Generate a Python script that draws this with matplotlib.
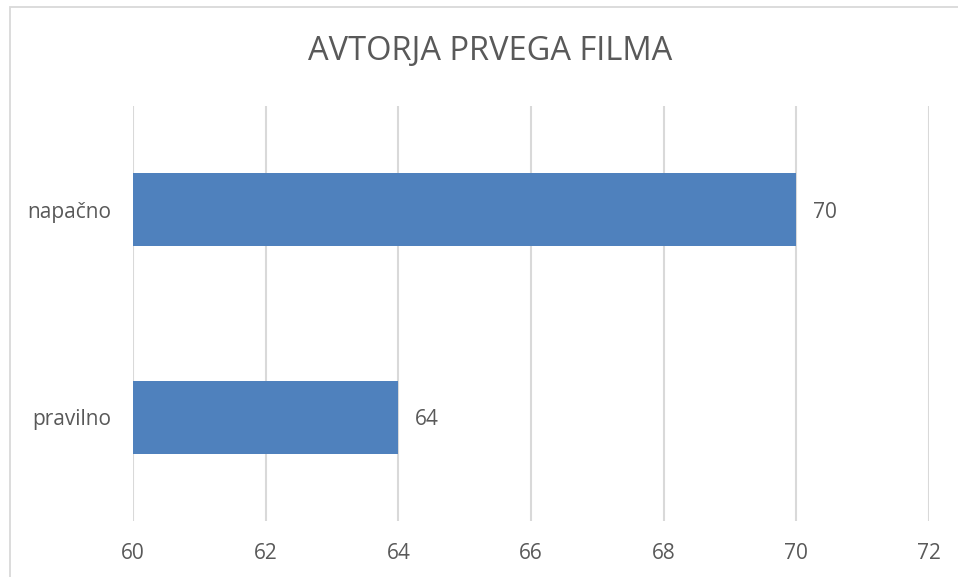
import matplotlib.pyplot as plt
import matplotlib
from matplotlib.patches import Rectangle

matplotlib.rcParams['font.family'] = ['Open Sans', 'DejaVu Sans']

# data
categories = ['pravilno', 'napačno']
values = [64, 70]
ticks = [60, 62, 64, 66, 68, 70, 72]
title = 'AVTORJA PRVEGA FILMA'

txt = '#595959'
bar_col = '#4F81BD'
grid_col = '#D9D9D9'

fig = plt.figure(figsize=(9.58, 5.77), dpi=100)
fig.patch.set_facecolor('white')
# chart border (only left and top edges are visible in the original)
fig.patches.append(Rectangle((9.5/958, -0.1), 1.2, 1.1 - 7.5/577,
                             transform=fig.transFigure, fill=False,
                             edgecolor=grid_col, linewidth=1.3))

ax = fig.add_axes([133/958, 1 - 521/577, 796/958, 415/577])
ax.barh(range(len(categories)), [v - ticks[0] for v in values], left=ticks[0],
        height=0.35, color=bar_col, zorder=3)
for i, v in enumerate(values):
    ax.annotate(str(v), (v, i), xytext=(12, 0), textcoords='offset points',
                va='center_baseline', ha='left', fontsize=15, color=txt)

ax.set_xlim(ticks[0], ticks[-1])
ax.set_ylim(-0.5, len(categories) - 0.5)
ax.set_xticks(ticks)
ax.set_xticklabels([str(t) for t in ticks])
ax.set_yticks(range(len(categories)))
ax.set_yticklabels(categories)
ax.tick_params(axis='x', length=0, pad=16, labelsize=15, labelcolor=txt)
ax.tick_params(axis='y', length=0, pad=16, labelsize=15, labelcolor=txt)
ax.grid(axis='x', color=grid_col, linewidth=1.5, zorder=0)
for s in ax.spines.values():
    s.set_visible(False)

fig.text(490/958, 1 - 52/577, title, ha='center', va='center',
         fontsize=23.5, color=txt)

fig.savefig('out.png', dpi=100, facecolor='white')
